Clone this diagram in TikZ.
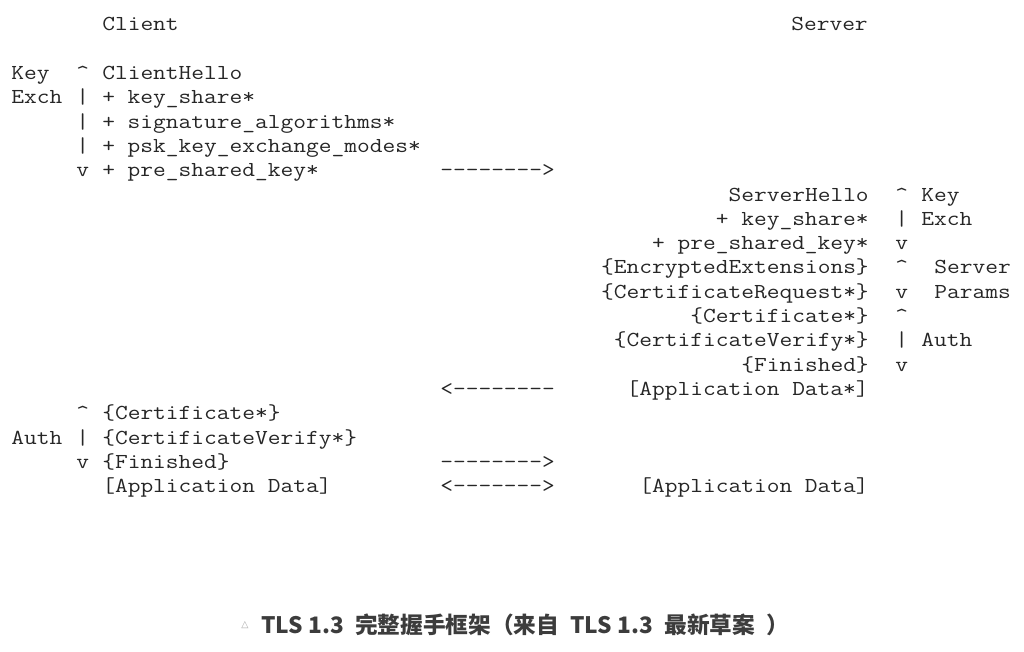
\documentclass[tikz,border=0pt]{standalone}
\usepackage{fontspec}
\newfontfamily\mono[FakeStretch=1.16,Ligatures=TeXOff]{Latin Modern Mono}
\newfontfamily\cjk{Noto Sans CJK SC}
\newfontfamily\dejavu{DejaVu Sans}
\definecolor{ink}{HTML}{262626}
\definecolor{capink}{HTML}{3C3C3C}
\definecolor{tri}{HTML}{A8A8A8}
\newcommand\crt{\textasciicircum}
\newcommand\capgap{\hspace{0.5em}}
\tikzset{
  mt/.style={font=\mono\fontsize{16}{16}\selectfont, text=ink, inner sep=0pt, anchor=base west},
  mtr/.style={mt, anchor=base east},
}
\begin{document}
\begin{tikzpicture}[x=0.75pt,y=-0.75pt]
\useasboundingbox (0,0) rectangle (1024,651);
% helpers: column c -> x = 11+13c ; row r -> baseline y = 30.9+24.3r
\def\C#1{{11+13*#1}}
\def\R#1{{30.9+24.3*#1}}
% header
\node[mt] (client) at (\C{7},\R{0}) {Client};
\node[mt] (server) at (\C{60},\R{0}) {Server};
% client key exchange
\node[mt] (kKey) at (\C{0},\R{2}) {Key};
\node[mt] (kUp) at (\C{5},\R{2}) {\crt};
\node[mt] (ch) at (\C{7},\R{2}) {ClientHello};
\node[mt] (kExch) at (\C{0},\R{3}) {Exch};
\node[mt] (kBar1) at (\C{5},\R{3}) {|};
\node[mt] (ks) at (\C{7},\R{3}) {+ key\_share*};
\node[mt] (kBar2) at (\C{5},\R{4}) {|};
\node[mt] (sa) at (\C{7},\R{4}) {+ signature\_algorithms*};
\node[mt] (kBar3) at (\C{5},\R{5}) {|};
\node[mt] (pkm) at (\C{7},\R{5}) {+ psk\_key\_exchange\_modes*};
\node[mt] (kDn) at (\C{5},\R{6}) {v};
\node[mt] (psk) at (\C{7},\R{6}) {+ pre\_shared\_key*};
\node[mt] (ar1) at (\C{33},\R{6}) {-{}-{}-{}-{}-{}-{}-{}->};
% server
\node[mtr] (sh) at (\C{66},\R{7}) {ServerHello};
\node[mt] (sUp1) at (\C{68},\R{7}) {\crt};
\node[mt] (sKey) at (\C{70},\R{7}) {Key};
\node[mtr] (sks) at (\C{66},\R{8}) {+ key\_share*};
\node[mt] (sBar1) at (\C{68},\R{8}) {|};
\node[mt] (sExch) at (\C{70},\R{8}) {Exch};
\node[mtr] (spsk) at (\C{66},\R{9}) {+ pre\_shared\_key*};
\node[mt] (sDn1) at (\C{68},\R{9}) {v};
\node[mtr] (ee) at (\C{66},\R{10}) {\{EncryptedExtensions\}};
\node[mt] (sUp2) at (\C{68},\R{10}) {\crt};
\node[mt] (sServer) at (\C{71},\R{10}) {Server};
\node[mtr] (cr) at (\C{66},\R{11}) {\{CertificateRequest*\}};
\node[mt] (sDn2) at (\C{68},\R{11}) {v};
\node[mt] (sParams) at (\C{71},\R{11}) {Params};
\node[mtr] (scert) at (\C{66},\R{12}) {\{Certificate*\}};
\node[mt] (sUp3) at (\C{68},\R{12}) {\crt};
\node[mtr] (scv) at (\C{66},\R{13}) {\{CertificateVerify*\}};
\node[mt] (sBar2) at (\C{68},\R{13}) {|};
\node[mt] (sAuth) at (\C{70},\R{13}) {Auth};
\node[mtr] (sfin) at (\C{66},\R{14}) {\{Finished\}};
\node[mt] (sDn3) at (\C{68},\R{14}) {v};
\node[mt] (ar2) at (\C{33},\R{15}) {<-{}-{}-{}-{}-{}-{}-{}-};
\node[mtr] (sad) at (\C{66},\R{15}) {[Application Data*]};
% client auth
\node[mt] (aUp) at (\C{5},\R{16}) {\crt};
\node[mt] (ccert) at (\C{7},\R{16}) {\{Certificate*\}};
\node[mt] (aAuth) at (\C{0},\R{17}) {Auth};
\node[mt] (aBar) at (\C{5},\R{17}) {|};
\node[mt] (ccv) at (\C{7},\R{17}) {\{CertificateVerify*\}};
\node[mt] (aDn) at (\C{5},\R{18}) {v};
\node[mt] (cfin) at (\C{7},\R{18}) {\{Finished\}};
\node[mt] (ar3) at (\C{33},\R{18}) {-{}-{}-{}-{}-{}-{}-{}->};
\node[mt] (cad) at (\C{7},\R{19}) {[Application Data]};
\node[mt] (ar4) at (\C{33},\R{19}) {<-{}-{}-{}-{}-{}-{}->};
\node[mtr] (sad2) at (\C{66},\R{19}) {[Application Data]};
% caption
\node[font=\dejavu\fontsize{7}{7}\selectfont, text=tri, inner sep=0pt] (tri) at (245,625) {△};
\node[font=\cjk\bfseries\fontsize{17}{17}\selectfont, text=capink, inner sep=0pt, anchor=west] (cap) at (261,625) {TLS 1.3\capgap 完整握手框架（来自\capgap TLS 1.3\capgap 最新草案\capgap ）};
\end{tikzpicture}
\end{document}
